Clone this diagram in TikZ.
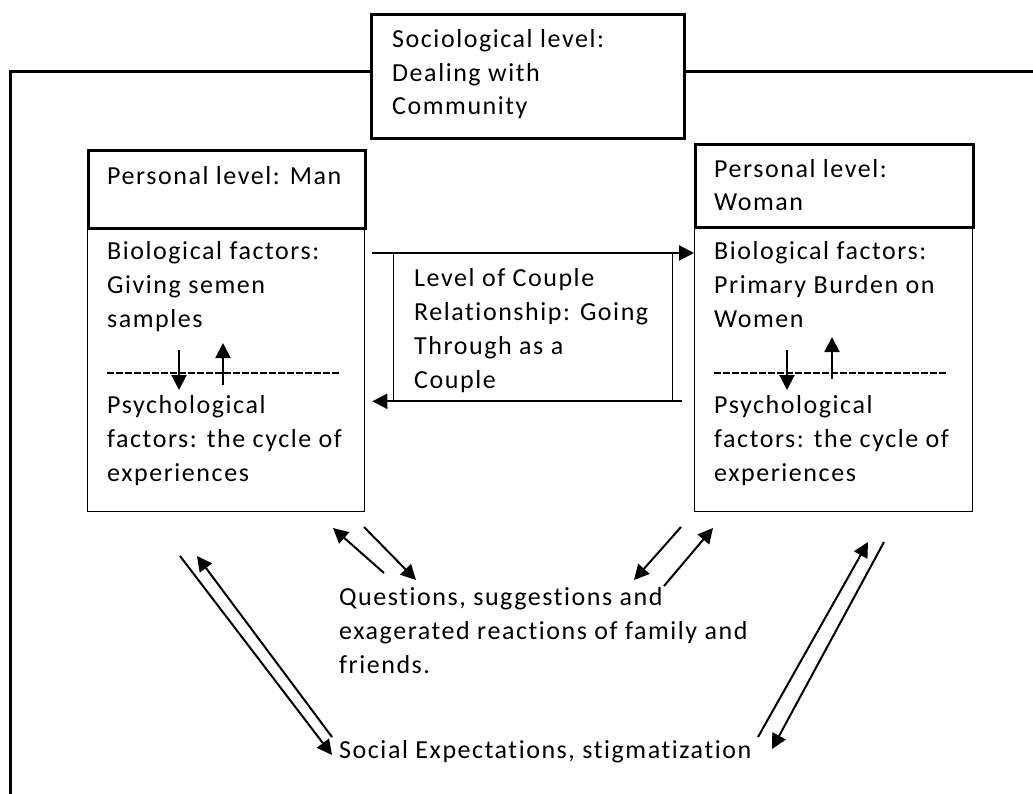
\documentclass[tikz,border=0pt]{standalone}
\usepackage{fontspec}
\setmainfont{Carlito}[LetterSpace=6, Ligatures=NoCommon]
\usepackage{tikz}
\usetikzlibrary{arrows.meta}

\tikzset{
    heavy/.style={draw, line width=3.2pt, anchor=north west, inner sep=0pt},
    light/.style={draw, line width=1.3pt, anchor=north west, inner sep=0pt},
    txt/.style={anchor=base west, inner sep=0pt, align=left, font=\fontsize{26}{33.7}\selectfont},
    arr/.style={line width=2pt, -{Triangle[length=15pt,width=15pt]}},
    sep/.style={line width=1.6pt, dash pattern=on 6.5pt off 2.5pt}
}

\begin{document}
\begin{tikzpicture}[x=1pt, y=-1pt]
    \useasboundingbox (0,0) rectangle (1033,794);

    \node[light, minimum width=277pt, minimum height=284pt] at (87, 227) (manbody) {};
    \node[light, minimum width=278pt, minimum height=285pt] at (694, 226) (womanbody) {};
    \node[heavy, minimum width=313pt, minimum height=124pt] at (370, 13) (soc) {};
    \node[heavy, minimum width=277pt, minimum height=78pt] at (87, 149) (manhead) {};
    \node[heavy, minimum width=278pt, minimum height=83pt] at (694, 143) (womanhead) {};
    \node[light, minimum width=279pt, minimum height=147pt] at (393, 253) (couple) {};

    % base west of a node with several lines = baseline of its last line
    \node[txt] at (392, 115) (soctext) {Sociological level:\\Dealing with\\Community};
    \node[txt] at (107, 185) (manheadtext) {Personal level: Man};
    \node[txt] at (714, 211) (womanheadtext) {Personal level:\\Woman};
    \node[txt] at (107, 327) (manbio) {Biological factors:\\Giving semen\\samples};
    \node[txt] at (107, 481) (manpsy) {Psychological\\factors: the cycle of\\experiences};
    \node[txt] at (714, 327) (womanbio) {Biological factors:\\Primary Burden on\\Women};
    \node[txt] at (714, 481) (womanpsy) {Psychological\\factors: the cycle of\\experiences};
    \node[txt] at (414, 388) (coupletext) {Level of Couple\\Relationship: Going\\Through as a\\Couple};
    \node[txt] at (339, 673) (family) {Questions, suggestions and\\exagerated reactions of family and\\friends.};
    \node[txt] at (339, 758) (social) {Social Expectations, stigmatization};

    \draw[line width=3pt] (soc.west |- 0, 72) -| (10, 800);
    \draw[line width=3pt] (soc.east |- 0, 72) -- (1040, 72);

    \draw[arr] ([xshift=7pt]manbody.east |- couple.north) -- (womanbody.west |- couple.north);
    \draw[arr] ([xshift=9pt]couple.east |- couple.south) -- ([xshift=7pt]manbody.east |- couple.south);

    \draw[sep] (107, 373) -- (339, 373);
    \draw[sep] (714, 373) -- (947, 373);
    \draw[arr] (179, 350) -- (179, 390);
    \draw[arr] (223, 385) -- (223, 343);
    \draw[arr] (787, 350) -- (787, 390);
    \draw[arr] (832, 379) -- (832, 337);

    \draw[arr] (384, 573) -- (333, 528);
    \draw[arr] (364, 527) -- (416, 580);
    \draw[arr] (681, 527) -- (634, 580);
    \draw[arr] (664, 586) -- (713, 528);
    \draw[arr] (180, 556) -- (332, 755);
    \draw[arr] (332, 737) -- (197, 556);
    \draw[arr] (758, 737) -- (868, 542);
    \draw[arr] (884, 542) -- (772, 749);
\end{tikzpicture}
\end{document}
